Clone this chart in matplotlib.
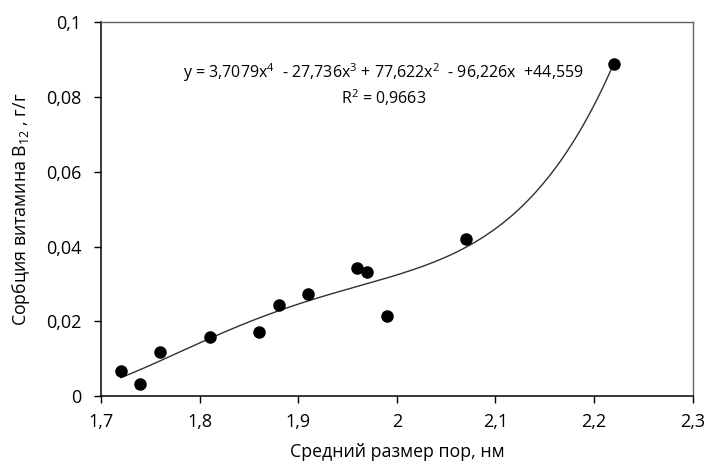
import matplotlib
matplotlib.use("Agg")
import matplotlib.pyplot as plt
import numpy as np

# pore size (nm) vs vitamin B12 sorption (g/g)
pore_size = [1.72, 1.74, 1.76, 1.81, 1.86, 1.88, 1.91, 1.96, 1.97, 1.99, 2.07, 2.22]
sorption = [0.0067, 0.0032, 0.0118, 0.0158, 0.0171, 0.0243, 0.0273, 0.0342, 0.0332, 0.0214, 0.042, 0.0888]

x_ticks = [1.7, 1.8, 1.9, 2.0, 2.1, 2.2, 2.3]
x_tick_labels = ["1,7", "1,8", "1,9", "2", "2,1", "2,2", "2,3"]
y_ticks = [0, 0.02, 0.04, 0.06, 0.08, 0.1]
y_tick_labels = ["0", "0,02", "0,04", "0,06", "0,08", "0,1"]

plt.rcParams["font.family"] = ["Open Sans", "DejaVu Sans"]
plt.rcParams["mathtext.fontset"] = "custom"
plt.rcParams["mathtext.rm"] = "Open Sans"
plt.rcParams["mathtext.it"] = "Open Sans"
plt.rcParams["mathtext.default"] = "regular"

fig = plt.figure(figsize=(7.09, 4.71), dpi=100)
ax = fig.add_axes([0.1425, 0.159, 0.8345, 0.794])

# 4th order polynomial trend line
coef = np.polyfit(pore_size, sorption, 4)
xs = np.linspace(min(pore_size), max(pore_size), 200)
ax.plot(xs, np.polyval(coef, xs), color="#303030", lw=1.0, zorder=2)

ax.scatter(pore_size, sorption, s=64, color="black", zorder=3)

ax.set_xlim(1.7, 2.3)
ax.set_ylim(0, 0.1)
ax.set_xticks(x_ticks)
ax.set_xticklabels(x_tick_labels)
ax.set_yticks(y_ticks)
ax.set_yticklabels(y_tick_labels)
ax.tick_params(direction="out", length=5, width=1, labelsize=13, colors="black")
ax.tick_params(axis="y", pad=9)
ax.tick_params(axis="x", pad=7)

for s in ["left", "bottom"]:
    ax.spines[s].set_color("black")
    ax.spines[s].set_linewidth(1.1)
for s in ["top", "right"]:
    ax.spines[s].set_color("#606060")
    ax.spines[s].set_linewidth(1.0)

ax.set_xlabel("Средний размер пор, нм", fontsize=12.8, labelpad=9)
ax.set_ylabel("Сорбция витамина B$_{12}$ , г/г", fontsize=12.8, labelpad=10)

ax.text(0.478, 0.864, "y = 3,7079x$^{4}$  - 27,736x$^{3}$ + 77,622x$^{2}$  - 96,226x  +44,559",
        transform=ax.transAxes, ha="center", va="center", fontsize=11.5)
ax.text(0.478, 0.797, "R$^{2}$ = 0,9663", transform=ax.transAxes,
        ha="center", va="center", fontsize=11.5)

fig.savefig("out.png", dpi=100)
